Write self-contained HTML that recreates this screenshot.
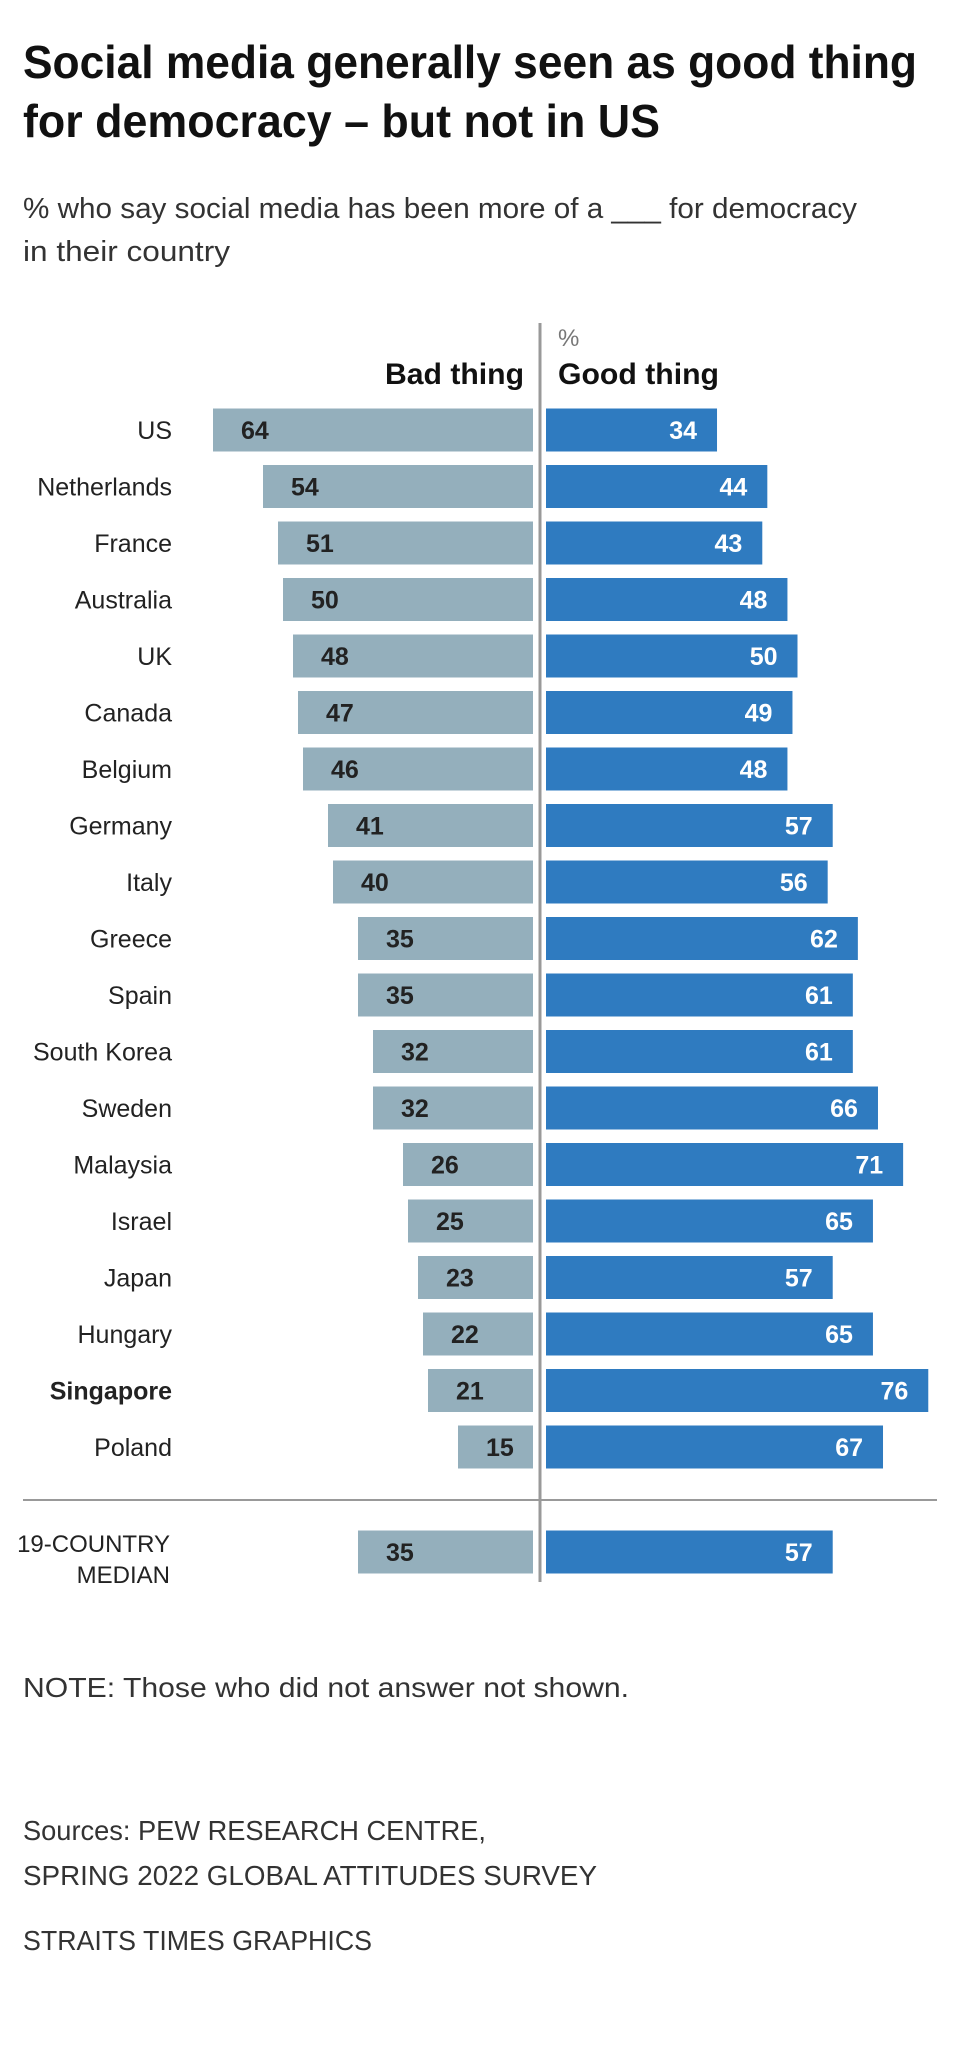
<!DOCTYPE html>
<html><head><meta charset="utf-8"><style>
html,body{margin:0;padding:0;background:#fff;}
svg{display:block;font-family:"Liberation Sans",sans-serif;}
</style></head><body>
<svg id="chart" width="960" height="2052" viewBox="0 0 960 2052">
<text x="23" y="78" font-size="46" font-weight="bold" fill="#111" textLength="894" lengthAdjust="spacingAndGlyphs">Social media generally seen as good thing</text>
<text x="23" y="137" font-size="46" font-weight="bold" fill="#111" textLength="637" lengthAdjust="spacingAndGlyphs">for democracy – but not in US</text>
<text x="23" y="218" font-size="29" fill="#333" textLength="834" lengthAdjust="spacingAndGlyphs">% who say social media has been more of a ___ for democracy</text>
<text x="23" y="261" font-size="29" fill="#333" textLength="207" lengthAdjust="spacingAndGlyphs">in their country</text>
<text x="558" y="346" font-size="24" fill="#777">%</text>
<text x="524" y="384" font-size="30" font-weight="bold" fill="#111" text-anchor="end" textLength="139" lengthAdjust="spacingAndGlyphs">Bad thing</text>
<text x="558" y="384" font-size="30" font-weight="bold" fill="#111" textLength="161" lengthAdjust="spacingAndGlyphs">Good thing</text>
<line x1="540" y1="323" x2="540" y2="1582" stroke="#999" stroke-width="3"/>
<line x1="23" y1="1500" x2="937" y2="1500" stroke="#999" stroke-width="2"/>
<g id="bars"></g>
<text x="23" y="1697" font-size="28" fill="#333" textLength="606" lengthAdjust="spacingAndGlyphs">NOTE: Those who did not answer not shown.</text>
<text x="23" y="1840" font-size="28" fill="#333" textLength="463" lengthAdjust="spacingAndGlyphs">Sources: PEW RESEARCH CENTRE,</text>
<text x="23" y="1885" font-size="28" fill="#333" textLength="574" lengthAdjust="spacingAndGlyphs">SPRING 2022 GLOBAL ATTITUDES SURVEY</text>
<text x="23" y="1950" font-size="28" fill="#333" textLength="349" lengthAdjust="spacingAndGlyphs">STRAITS TIMES GRAPHICS</text>
</svg>
<script>
const countries = ["US","Netherlands","France","Australia","UK","Canada","Belgium","Germany","Italy","Greece","Spain","South Korea","Sweden","Malaysia","Israel","Japan","Hungary","Singapore","Poland"];
const badValues = [64,54,51,50,48,47,46,41,40,35,35,32,32,26,25,23,22,21,15];
const goodValues = [34,44,43,48,50,49,48,57,56,62,61,61,66,71,65,57,65,76,67];
const medianBad = 35;
const medianGood = 57;

const NS = "http://www.w3.org/2000/svg";
const g = document.getElementById("bars");
const badRight = 533, goodLeft = 546, unit = 5.0, gUnit = 5.03;
const xBad = v => badRight - v * unit;
const xGood = v => goodLeft + v * gUnit;
const rowY = i => 430 + i * 56.5;
const barH = 43;
function mk(tag, attrs, txt) {
  const e = document.createElementNS(NS, tag);
  for (const k in attrs) e.setAttribute(k, attrs[k]);
  if (txt !== undefined) e.textContent = txt;
  g.appendChild(e);
  return e;
}
function drawRow(cy, bad, good, key) {
  let r = mk("rect", {x: xBad(bad), y: cy - barH/2, width: bad*unit, height: barH, fill: "#94afbc"});
  
  
  let bx = Math.min(xBad(bad) + 28, badRight - 38);
  let t = mk("text", {x: bx, y: cy + 9, "font-size": 25, "font-weight": "bold", fill: "#222"}, bad);
  
  
  let r2 = mk("rect", {x: goodLeft, y: cy - barH/2, width: good*gUnit, height: barH, fill: "#2f7bc0"});
  
  
  let t2 = mk("text", {x: xGood(good) - 20, y: cy + 9, "font-size": 25, "font-weight": "bold", fill: "#fff", "text-anchor": "end"}, good);
  
  
}
countries.forEach((c, i) => {
  const cy = rowY(i);
  const key = c.toLowerCase().replace(/\s+/g, '-');
  const lbl = mk("text", {x: 172, y: cy + 9, "font-size": 25, fill: "#222", "text-anchor": "end", "font-weight": c === "Singapore" ? "bold" : "normal"}, c);
  
  
  drawRow(cy, badValues[i], goodValues[i], key);
});
const mcy = 1552;
const m1 = mk("text", {x: 170, y: mcy, "font-size": 24, fill: "#222", "text-anchor": "end"}, "19-COUNTRY");


const m2 = mk("text", {x: 170, y: mcy + 31, "font-size": 24, fill: "#222", "text-anchor": "end"}, "MEDIAN");


drawRow(mcy, medianBad, medianGood, 'median');
</script>
</body></html>
